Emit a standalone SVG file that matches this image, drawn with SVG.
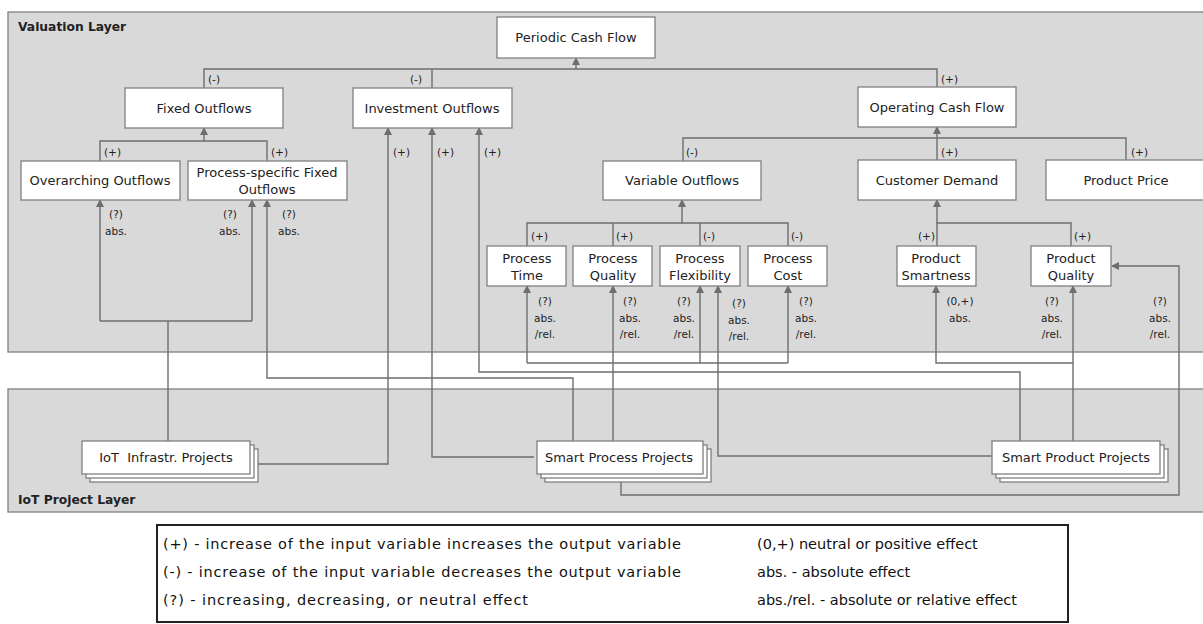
<svg xmlns="http://www.w3.org/2000/svg" width="1203" height="624" viewBox="0 0 1203 624">
<defs>
<marker id="ah" markerWidth="8" markerHeight="8" refX="7" refY="4" orient="auto" markerUnits="userSpaceOnUse">
<path d="M0,0 L8,4 L0,8 Z" fill="#6e6e6e"/>
</marker>
<style>
.layer{fill:#d9d9d9;stroke:#808080;stroke-width:1.3}
.node{fill:#ffffff;stroke:#808080;stroke-width:1.3}
.t{font-family:"DejaVu Sans",Verdana,sans-serif;font-size:13px;fill:#222;text-anchor:middle}
.lt{font-family:"DejaVu Sans",Verdana,sans-serif;font-size:12.3px;font-weight:bold;fill:#222}
.l{font-family:"DejaVu Sans",Verdana,sans-serif;font-size:10.5px;fill:#222}
.lc{font-family:"DejaVu Sans",Verdana,sans-serif;font-size:10.5px;fill:#222;text-anchor:middle}
.g{font-family:"DejaVu Sans",Verdana,sans-serif;font-size:14.5px;fill:#111}
.c{fill:none;stroke:#6e6e6e;stroke-width:1.4}
.a{fill:none;stroke:#6e6e6e;stroke-width:1.4;marker-end:url(#ah)}
</style>
</defs>
<rect width="1203" height="624" fill="#ffffff"/>

<g id="valuation-layer">
<rect class="layer" x="8" y="12" width="1200" height="340"/>
<text class="lt" x="18" y="31">Valuation Layer</text>
</g>
<g id="project-layer">
<rect class="layer" x="8" y="389" width="1200" height="123"/>
<text class="lt" x="18" y="504">IoT Project Layer</text>
</g>

<g id="connectors">
<path class="c" d="M204,88 V69 H937 V87"/>
<path class="c" d="M432,88 V69"/>
<path class="a" d="M576,69 V58"/>
<path class="c" d="M100,161 V141 H267 V161"/>
<path class="a" d="M204,141 V128"/>
<path class="a" d="M258,464 H388 V128"/>
<path class="a" d="M534,457 H432 V128"/>
<path class="a" d="M1020,441 V372 H479 V128"/>
<path class="c" d="M683,161 V138 H1126 V160"/>
<path class="a" d="M937,160 V127"/>
<path class="c" d="M527,246 V223 H788 V246"/>
<path class="c" d="M613,246 V223"/>
<path class="c" d="M700,246 V223"/>
<path class="a" d="M682,223 V200"/>
<path class="c" d="M937,246 V223 H1071 V246"/>
<path class="a" d="M937,223 V200"/>
<path class="c" d="M168,441 V321"/>
<path class="c" d="M100,321 H252"/>
<path class="a" d="M100,321 V200"/>
<path class="a" d="M252,321 V200"/>
<path class="a" d="M573,441 V378 H267 V200"/>
<path class="a" d="M613,441 V286"/>
<path class="c" d="M527,363 H788"/>
<path class="a" d="M527,363 V286"/>
<path class="a" d="M700,363 V286"/>
<path class="a" d="M788,363 V286"/>
<path class="a" d="M992,456 H718 V286"/>
<path class="a" d="M1073,441 V286"/>
<path class="a" d="M1073,363 H936 V286"/>
<path class="a" d="M621,482 V495 H1179 V266 H1112"/>
<text class="l" x="208" y="83">(-)</text>
<text class="l" x="410" y="83">(-)</text>
<text class="l" x="941" y="83">(+)</text>
<text class="l" x="104" y="156">(+)</text>
<text class="l" x="271" y="156">(+)</text>
<text class="l" x="393" y="156">(+)</text>
<text class="l" x="437" y="156">(+)</text>
<text class="l" x="484" y="156">(+)</text>
<text class="l" x="686" y="156">(-)</text>
<text class="l" x="941" y="156">(+)</text>
<text class="l" x="1131" y="156">(+)</text>
<text class="l" x="531" y="240">(+)</text>
<text class="l" x="616" y="240">(+)</text>
<text class="l" x="703" y="240">(-)</text>
<text class="l" x="791" y="240">(-)</text>
<text class="l" x="918" y="240">(+)</text>
<text class="l" x="1074" y="240">(+)</text>
<text class="lc" x="116" y="218">(?)</text><text class="lc" x="116" y="235">abs.</text>
<text class="lc" x="230" y="218">(?)</text><text class="lc" x="230" y="235">abs.</text>
<text class="lc" x="289" y="218">(?)</text><text class="lc" x="289" y="235">abs.</text>
<text class="lc" x="545" y="305">(?)</text><text class="lc" x="545" y="322">abs.</text><text class="lc" x="545" y="338">/rel.</text>
<text class="lc" x="630" y="305">(?)</text><text class="lc" x="630" y="322">abs.</text><text class="lc" x="630" y="338">/rel.</text>
<text class="lc" x="684" y="305">(?)</text><text class="lc" x="684" y="322">abs.</text><text class="lc" x="684" y="338">/rel.</text>
<text class="lc" x="739" y="307">(?)</text><text class="lc" x="739" y="324">abs.</text><text class="lc" x="739" y="340">/rel.</text>
<text class="lc" x="806" y="305">(?)</text><text class="lc" x="806" y="322">abs.</text><text class="lc" x="806" y="338">/rel.</text>
<text class="lc" x="960" y="305">(0,+)</text><text class="lc" x="960" y="322">abs.</text>
<text class="lc" x="1052" y="305">(?)</text><text class="lc" x="1052" y="322">abs.</text><text class="lc" x="1052" y="338">/rel.</text>
<text class="lc" x="1160" y="305">(?)</text><text class="lc" x="1160" y="322">abs.</text><text class="lc" x="1160" y="338">/rel.</text>
</g>

<g id="periodic-cash-flow"><rect class="node" x="497" y="17" width="158" height="41"/><text class="t" x="576" y="42">Periodic Cash Flow</text></g>
<g id="fixed-outflows"><rect class="node" x="125" y="88" width="158" height="40"/><text class="t" x="204" y="113">Fixed Outflows</text></g>
<g id="investment-outflows"><rect class="node" x="353" y="88" width="159" height="40"/><text class="t" x="432" y="113">Investment Outflows</text></g>
<g id="operating-cash-flow"><rect class="node" x="858" y="87" width="158" height="40"/><text class="t" x="937" y="112">Operating Cash Flow</text></g>
<g id="overarching-outflows"><rect class="node" x="21" y="161" width="159" height="39"/><text class="t" x="100" y="185">Overarching Outflows</text></g>
<g id="process-specific-fixed-outflows"><rect class="node" x="188" y="161" width="159" height="39"/><text class="t" x="267" y="177">Process-specific Fixed</text><text class="t" x="267" y="194">Outflows</text></g>
<g id="variable-outflows"><rect class="node" x="603" y="161" width="158" height="39"/><text class="t" x="682" y="185">Variable Outflows</text></g>
<g id="customer-demand"><rect class="node" x="858" y="160" width="158" height="40"/><text class="t" x="937" y="185">Customer Demand</text></g>
<g id="product-price"><rect class="node" x="1046" y="160" width="170" height="40"/><text class="t" x="1126" y="185">Product Price</text></g>
<g id="process-time"><rect class="node" x="487" y="246" width="79" height="40"/><text class="t" x="527" y="263">Process</text><text class="t" x="527" y="280">Time</text></g>
<g id="process-quality"><rect class="node" x="573" y="246" width="79" height="40"/><text class="t" x="613" y="263">Process</text><text class="t" x="613" y="280">Quality</text></g>
<g id="process-flexibility"><rect class="node" x="660" y="246" width="80" height="40"/><text class="t" x="700" y="263">Process</text><text class="t" x="700" y="280">Flexibility</text></g>
<g id="process-cost"><rect class="node" x="748" y="246" width="79" height="40"/><text class="t" x="788" y="263">Process</text><text class="t" x="788" y="280">Cost</text></g>
<g id="product-smartness"><rect class="node" x="897" y="246" width="79" height="40"/><text class="t" x="936" y="263">Product</text><text class="t" x="936" y="280">Smartness</text></g>
<g id="product-quality"><rect class="node" x="1031" y="246" width="80" height="40"/><text class="t" x="1071" y="263">Product</text><text class="t" x="1071" y="280">Quality</text></g>

<g id="iot-infrastr-projects">
<rect class="node" x="90" y="449" width="168" height="33"/>
<rect class="node" x="86" y="445" width="168" height="33"/>
<rect class="node" x="82" y="441" width="168" height="33"/>
<text class="t" x="166" y="462" xml:space="preserve" style="white-space:pre">IoT  Infrastr. Projects</text>
</g>
<g id="smart-process-projects">
<rect class="node" x="545" y="449" width="166" height="33"/>
<rect class="node" x="541" y="445" width="166" height="33"/>
<rect class="node" x="537" y="441" width="166" height="33"/>
<text class="t" x="619" y="462">Smart Process Projects</text>
</g>
<g id="smart-product-projects">
<rect class="node" x="1000" y="449" width="168" height="33"/>
<rect class="node" x="996" y="445" width="168" height="33"/>
<rect class="node" x="992" y="441" width="168" height="33"/>
<text class="t" x="1076" y="462">Smart Product Projects</text>
</g>

<g id="legend">
<rect x="157" y="525" width="911" height="97" fill="#ffffff" stroke="#222" stroke-width="2"/>
<text class="g" x="163" y="549" textLength="518" lengthAdjust="spacing">(+) - increase of the input variable increases the output variable</text>
<text class="g" x="163" y="577" textLength="518" lengthAdjust="spacing">(-) - increase of the input variable decreases the output variable</text>
<text class="g" x="163" y="605" textLength="365" lengthAdjust="spacing">(?) - increasing, decreasing, or neutral effect</text>
<text class="g" x="757" y="549">(0,+) neutral or positive effect</text>
<text class="g" x="757" y="577">abs. - absolute effect</text>
<text class="g" x="757" y="605">abs./rel. - absolute or relative effect</text>
</g>
</svg>
